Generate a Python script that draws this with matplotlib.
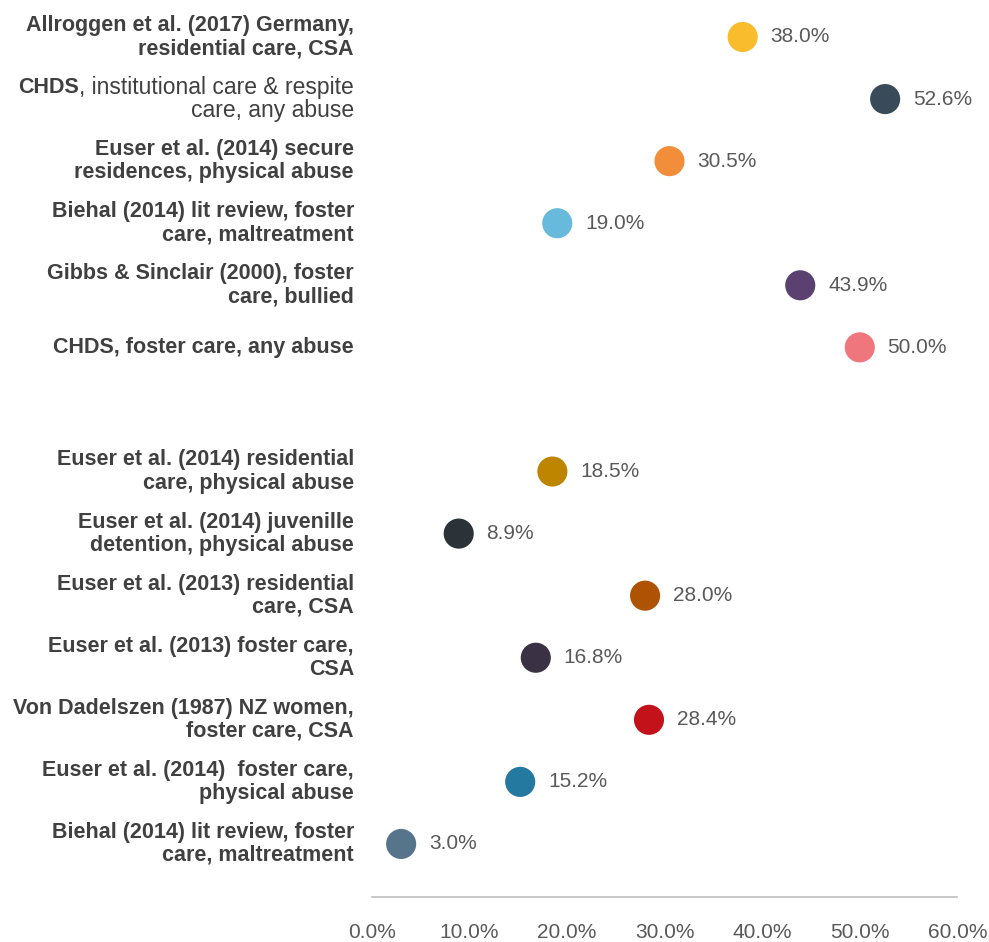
import matplotlib
matplotlib.use("Agg")
import matplotlib.pyplot as plt
import matplotlib.transforms as mtransforms

plt.rcParams['font.family'] = ['Liberation Sans', 'DejaVu Sans']

# studies, top to bottom (the empty slot is the gap between the two groups)
labels = [
    "Allroggen et al. (2017) Germany,\nresidential care, CSA",
    "CHDS, institutional care & respite\ncare, any abuse",
    "Euser et al. (2014) secure\nresidences, physical abuse",
    "Biehal (2014) lit review, foster\ncare, maltreatment",
    "Gibbs & Sinclair (2000), foster\ncare, bullied",
    "CHDS, foster care, any abuse",
    "Euser et al. (2014) residential\ncare, physical abuse",
    "Euser et al. (2014) juvenille\ndetention, physical abuse",
    "Euser et al. (2013) residential\ncare, CSA",
    "Euser et al. (2013) foster care,\nCSA",
    "Von Dadelszen (1987) NZ women,\nfoster care, CSA",
    "Euser et al. (2014)  foster care,\nphysical abuse",
    "Biehal (2014) lit review, foster\ncare, maltreatment",
]
values = [38.0, 52.6, 30.5, 19.0, 43.9, 50.0,
          18.5, 8.9, 28.0, 16.8, 28.4, 15.2, 3.0]
colors = ["#F9BC2C", "#394B59", "#F28E3A", "#67BADB", "#5A4170", "#F0767D",
          "#BE8500", "#2B3238", "#AE5204", "#3B3145", "#C4121B", "#23799F", "#56758A"]
rows = [0, 1, 2, 3, 4, 5, 7, 8, 9, 10, 11, 12, 13]

fig = plt.figure(figsize=(9.89, 9.42), dpi=100)
ax = fig.add_axes([0.376, 0.0478, 0.592, 0.9522])

ax.scatter(values, rows, s=470, c=colors, zorder=3, linewidths=0)
for v, r in zip(values, rows):
    ax.annotate(f"{v:.1f}%", (v, r), xytext=(20, 0), textcoords="offset points",
                ha="left", va="center", fontsize=15, color="#595959")

ax.set_xlim(0, 60)
ax.set_ylim(13.854, -0.596)
ax.set_xticks(range(0, 61, 10))
ax.set_xticklabels([f"{t:.1f}%" for t in range(0, 61, 10)], fontsize=15, color="#595959")
ax.tick_params(axis="x", length=0, pad=19)
ax.set_yticks([])
for side in ["top", "right", "left"]:
    ax.spines[side].set_visible(False)
ax.spines["bottom"].set_color("#BFBFBF")
ax.spines["bottom"].set_linewidth(1.2)

trans = mtransforms.blended_transform_factory(fig.transFigure, ax.transData)
xr = 354 / 989
renderer = fig.canvas.get_renderer()
lab_kw = dict(ha="right", va="center", color="#404040",
              xycoords=trans, textcoords="offset points")
half = 8.3  # half the line step, in points
for lab, r in zip(labels, rows):
    lines = lab.split("\n")
    offs = [0] if len(lines) == 1 else [half, -half]
    for ln, dy in zip(lines, offs):
        if ln.startswith("CHDS, institutional") or ln == "care, any abuse":
            # this label has only "CHDS" in bold
            if ln.startswith("CHDS"):
                t1 = ax.annotate(ln[4:], (xr, r), xytext=(0, dy), fontsize=16.5, **lab_kw)
                w = t1.get_window_extent(renderer).width / fig.bbox.width
                ax.annotate("CHDS", (xr - w, r), xytext=(0, dy), fontsize=15.5,
                            fontweight="bold", **lab_kw)
            else:
                ax.annotate(ln, (xr, r), xytext=(0, dy), fontsize=16.5, **lab_kw)
        else:
            ax.annotate(ln, (xr, r), xytext=(0, dy), fontsize=15.5, fontweight="bold", **lab_kw)

fig.savefig("out.png", dpi=100)
